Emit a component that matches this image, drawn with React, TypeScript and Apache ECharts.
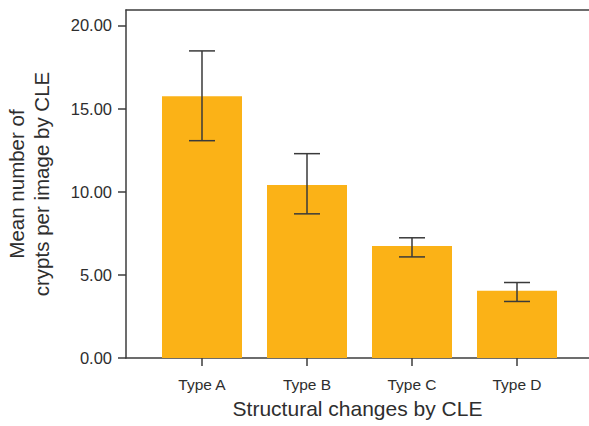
import React, { useEffect, useRef } from "react";
import * as echarts from "echarts";

const categories = ["Type A", "Type B", "Type C", "Type D"];
const means = [15.75, 10.41, 6.74, 4.04];
const upper = [18.47, 12.29, 7.23, 4.54];
const lower = [13.07, 8.67, 6.08, 3.4];
const yTicks = [0, 5, 10, 15, 20];
const catPositions = [0, 1, 2, 3];

const FONT = "'Liberation Sans', Arial, Helvetica, sans-serif";
const TEXT = "#2e2e2e";
const AXIS = "#3c3c3c";

export default function App() {
  const ref = useRef<HTMLDivElement>(null);
  useEffect(() => {
    if (!ref.current) return;
    const chart = echarts.init(ref.current, null, { renderer: "svg" });
    const xMin = -0.7238;
    const xMax = 3.6857;
    chart.setOption({
      animation: false,
      backgroundColor: "#ffffff",
      grid: { left: 126, right: 0, top: 10, bottom: 68, containLabel: false, outerBoundsMode: "none" },
      xAxis: [
        {
          type: "value",
          min: xMin,
          max: xMax,
          position: "bottom",
          splitLine: { show: false },
          axisLine: { show: true, onZero: false, lineStyle: { color: AXIS, width: 1.5 } },
          axisTick: {
            show: true,
            length: 8,
            customValues: catPositions,
            lineStyle: { color: AXIS, width: 1.5 },
          },
          axisLabel: {
            customValues: catPositions,
            formatter: (v: number) => categories[Math.round(v)] ?? "",
            color: TEXT,
            fontSize: 15.5,
            fontFamily: FONT,
            margin: 18,
          },
          name: "Structural changes by CLE",
          nameLocation: "middle",
          nameGap: 40,
          nameTextStyle: { fontSize: 21, fontFamily: FONT, color: TEXT },
        },
        {
          type: "value",
          min: xMin,
          max: xMax,
          position: "top",
          splitLine: { show: false },
          axisLine: { show: true, onZero: false, lineStyle: { color: AXIS, width: 1.5 } },
          axisTick: { show: false },
          axisLabel: { show: false },
        },
      ],
      yAxis: {
        type: "value",
        min: 0,
        max: 20.93,
        position: "left",
        splitLine: { show: false },
        axisLine: { show: true, onZero: false, lineStyle: { color: AXIS, width: 1.5 } },
        axisTick: {
          show: true,
          length: 8,
          customValues: yTicks,
          lineStyle: { color: AXIS, width: 1.5 },
        },
        axisLabel: {
          customValues: yTicks,
          formatter: (v: number) => v.toFixed(2),
          color: TEXT,
          fontSize: 16.5,
          fontFamily: FONT,
          margin: 14,
        },
        name: "Mean number of\ncrypts per image by CLE",
        nameLocation: "middle",
        nameGap: 72,
        nameTextStyle: {
          fontSize: 20.5,
          fontFamily: FONT,
          color: TEXT,
          lineHeight: 25,
        },
      },
      series: [
        {
          type: "bar",
          xAxisIndex: 0,
          data: means.map((v, i) => [catPositions[i], v]),
          barWidth: 80,
          itemStyle: { color: "#FBB217" },
        },
        {
          type: "custom",
          xAxisIndex: 0,
          z: 10,
          data: categories.map((_, i) => [catPositions[i], lower[i], upper[i]]),
          encode: { x: 0, y: [1, 2] },
          renderItem: (params: any, api: any) => {
            const x = api.value(0);
            const lo = api.coord([x, api.value(1)]);
            const hi = api.coord([x, api.value(2)]);
            const hw = 13;
            const style = { stroke: "#3a3a3a", lineWidth: 1.5 };
            return {
              type: "group",
              children: [
                { type: "line", shape: { x1: hi[0], y1: hi[1], x2: lo[0], y2: lo[1] }, style },
                { type: "line", shape: { x1: hi[0] - hw, y1: hi[1], x2: hi[0] + hw, y2: hi[1] }, style },
                { type: "line", shape: { x1: lo[0] - hw, y1: lo[1], x2: lo[0] + hw, y2: lo[1] }, style },
              ],
            };
          },
        },
      ],
    });
    return () => chart.dispose();
  }, []);
  return (
    <div
      ref={ref}
      style={{ position: "fixed", left: 0, top: 0, width: 589, height: 426 }}
    />
  );
}
